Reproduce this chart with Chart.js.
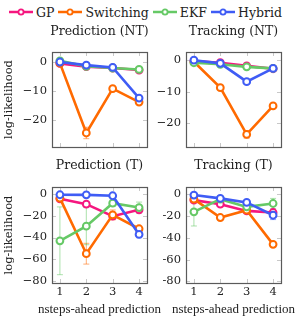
<!DOCTYPE html>
<html><head><meta charset="utf-8">
<script src="https://cdn.jsdelivr.net/npm/chart.js@4/dist/chart.umd.min.js"></script>
<style>
html,body{margin:0;padding:0;background:#fff;}
#wrap{position:relative;width:299px;height:320px;overflow:hidden;font-family:"DejaVu Serif",serif;}
canvas{position:absolute;}
#legend{position:absolute;left:-4px;top:3px;width:299px;height:18px;display:flex;justify-content:center;align-items:center;font-size:12.5px;color:#222;white-space:nowrap;}
#legend .it{display:flex;align-items:center;margin:0 2px;}
#legend svg{margin-right:3px;}
</style></head><body>
<div id="wrap">
<div id="legend"></div>
<canvas id="c1"></canvas><canvas id="c2"></canvas><canvas id="c3"></canvas><canvas id="c4"></canvas>
</div>
<script>
// ---- data ----
const steps = [1, 2, 3, 4];
const seriesNames = ["GP", "Switching", "EKF", "Hybrid"];
const seriesColors = ["#f5177f", "#ff6a00", "#66c966", "#3f5cf5"];
const panelTitles = ["Prediction (NT)", "Tracking (NT)", "Prediction (T)", "Tracking (T)"];
const xAxisLabel = "nsteps-ahead prediction";
const yAxisLabel = "log-likelihood";
const yTicksNT = [0, -10, -20];
const yTicksT = [0, -20, -40, -60, -80];

const gpPredNT  = [-0.4, -1.5, -2.0, -2.7];
const swPredNT  = [-0.3, -24.7, -9.2, -13.9];
const ekfPredNT = [0.5, -1.4, -2.0, -2.5];
const hyPredNT  = [0.1, -1.0, -1.8, -12.5];
const swPredNTErr = [0, 2, 0.5, 0.5];

const gpTrackNT  = [-0.3, -0.8, -1.8, -2.7];
const swTrackNT  = [-0.5, -8.7, -23.5, -14.5];
const ekfTrackNT = [-0.8, -1.3, -2.1, -2.6];
const hyTrackNT  = [0.0, -1.0, -6.8, -2.6];
const swTrackNTErr = [0, 0.5, 1.2, 0.5];

const gpPredT  = [-4.6, -9.5, -20.5, -14.7];
const swPredT  = [-4.0, -54.8, -19.3, -32.0];
const ekfPredT = [-43.0, -29.6, -8.6, -12.6];
const hyPredT  = [-0.9, -1.0, -1.8, -37.2];
const gpPredTErr  = [0, 0, 3, 1];
const swPredTErr  = [0, 9.5, 4.5, 2];
const ekfPredTErr = [31, 17, 3, 5];
const hyPredTErr  = [0, 0, 0, 3];

const gpTrackT  = [-5.3, -9.0, -15.2, -16.7];
const swTrackT  = [-4.4, -21.3, -14.5, -46.0];
const ekfTrackT = [-16.1, -4.4, -11.5, -8.4];
const hyTrackT  = [-0.6, -3.7, -7.4, -19.2];
const gpTrackTErr  = [0, 0, 1, 1];
const swTrackTErr  = [0, 1, 1, 2];
const ekfTrackTErr = [13, 1, 2, 4.7];
const hyTrackTErr  = [0, 0, 1, 4];

// ---- legend ----
const lg = document.getElementById('legend');
seriesNames.forEach((n, i) => {
  const d = document.createElement('span'); d.className = 'it';
  d.innerHTML = '<svg width="24" height="10"><line x1="0" y1="5" x2="24" y2="5" stroke="' + seriesColors[i] +
    '" stroke-width="2.5"/><circle cx="12" cy="5" r="2.6" fill="#fff" stroke="' + seriesColors[i] + '" stroke-width="1.8"/></svg>';
  const t = document.createElement('span'); t.textContent = n; d.appendChild(t);
  lg.appendChild(d);
});

const serif = '"DejaVu Serif", serif';
const serif2 = '"Liberation Serif", serif';

const frameAndErr = {
  id: 'frameAndErr',
  beforeDatasetsDraw(chart) {
    const ctx = chart.ctx, xs = chart.scales.x, ys = chart.scales.y, a = chart.chartArea;
    ctx.save();
    ctx.strokeStyle = '#c8c8c8'; ctx.lineWidth = 1;
    ys.ticks.forEach(t => {
      const y = Math.round(ys.getPixelForValue(t.value)) + 0.5;
      ctx.beginPath(); ctx.moveTo(a.left, y); ctx.lineTo(a.left + 4, y);
      ctx.moveTo(a.right, y); ctx.lineTo(a.right - 4, y); ctx.stroke();
    });
    xs.ticks.forEach(t => {
      const x = Math.round(xs.getPixelForValue(t.value)) + 0.5;
      ctx.beginPath(); ctx.moveTo(x, a.bottom); ctx.lineTo(x, a.bottom - 4);
      ctx.moveTo(x, a.top); ctx.lineTo(x, a.top + 4); ctx.stroke();
    });
    const errs = chart.options.plugins.frameAndErr.errors || [];
    chart.data.datasets.forEach((ds, di) => {
      const e = errs[di]; if (!e) return;
      ctx.strokeStyle = ds.borderColor; ctx.globalAlpha = 0.55; ctx.lineWidth = 1;
      ds.data.forEach((p, k) => {
        if (!e[k]) return;
        const x = xs.getPixelForValue(p.x);
        const y1 = ys.getPixelForValue(p.y + e[k]), y2 = ys.getPixelForValue(p.y - e[k]);
        ctx.beginPath();
        ctx.moveTo(x, y1); ctx.lineTo(x, y2);
        ctx.moveTo(x - 3, y1); ctx.lineTo(x + 3, y1);
        ctx.moveTo(x - 3, y2); ctx.lineTo(x + 3, y2);
        ctx.stroke();
      });
    });
    ctx.restore();
  },
  afterDraw(chart) {
    const ctx = chart.ctx, a = chart.chartArea, o = chart.options.plugins.frameAndErr;
    ctx.save(); ctx.strokeStyle = '#5a5a5a'; ctx.lineWidth = 1.2;
    ctx.strokeRect(Math.round(a.left) + 0.5, Math.round(a.top) + 0.5, Math.round(a.right - a.left), Math.round(a.bottom - a.top));
    ctx.fillStyle = '#222'; ctx.textAlign = 'center'; ctx.textBaseline = 'middle';
    const cx = (a.left + a.right) / 2;
    ctx.font = '12.5px ' + serif;
    ctx.fillText(o.title, cx, o.titleY);
    if (o.xlabel) { ctx.font = '13px ' + serif2; ctx.fillText(o.xlabel, cx, o.xlabelY); }
    ctx.restore();
  }
};

function makePanel(id, pos, title, series, errors, yTicks, yMin, yMax, leftCol, bottomRow, hyphen) {
  const cv = document.getElementById(id);
  cv.style.left = pos.left + 'px'; cv.style.top = pos.top + 'px';
  cv.width = pos.w; cv.height = pos.h;
  cv.style.width = pos.w + 'px'; cv.style.height = pos.h + 'px';
  const datasets = series.map((vals, i) => ({
    label: seriesNames[i],
    data: steps.map((s, k) => ({ x: s, y: vals[k] })),
    borderColor: seriesColors[i],
    backgroundColor: '#ffffff',
    borderWidth: 2.6,
    pointRadius: 3.4,
    pointBorderWidth: 2,
    pointBackgroundColor: '#ffffff',
    pointBorderColor: seriesColors[i],
    tension: 0,
    order: 4 - i
  }));
  new Chart(cv, {
    type: 'line',
    data: { datasets },
    plugins: [frameAndErr],
    options: {
      responsive: false, animation: false, devicePixelRatio: 1,
      layout: { padding: { left: 0, right: pos.padR, top: pos.padT, bottom: bottomRow ? 0 : pos.padB } },
      plugins: {
        legend: { display: false }, tooltip: { enabled: false }, title: { display: false },
        frameAndErr: { errors, title, titleY: pos.titleY, xlabel: bottomRow ? xAxisLabel : null, xlabelY: pos.xlabelY }
      },
      scales: {
        x: {
          type: 'linear', min: 0.7, max: 4.3,
          grid: { display: false, drawTicks: false },
          border: { display: false },
          afterBuildTicks: s => { s.ticks = steps.map(v => ({ value: v })); },
          ticks: { display: bottomRow, color: '#222', padding: 2, font: { family: serif, size: 11.5 },
                   callback: v => String(v) },
          afterFit: s => { s.height = bottomRow ? pos.xH : 0; }
        },
        y: {
          min: yMin, max: yMax,
          grid: { display: false, drawTicks: false },
          border: { display: false },
          afterBuildTicks: s => { s.ticks = yTicks.map(v => ({ value: v })); },
          ticks: { color: '#222', padding: 5, font: { family: serif, size: 11.5 },
                   callback: v => v < 0 ? (hyphen ? '-' : '\u2212') + Math.abs(v) : String(v) },
          title: { display: leftCol, text: yAxisLabel, color: '#222',
                   font: { family: serif, size: 11.5 }, padding: { top: 2, bottom: 0 } },
          afterFit: s => { s.width = pos.yW; }
        }
      }
    }
  });
}

makePanel('c1', { left: 0, top: 20, w: 299, h: 140, padR: 152, padT: 32, padB: 13, yW: 52, xH: 0, titleY: 11.5 },
  panelTitles[0], [gpPredNT, swPredNT, ekfPredNT, hyPredNT], [null, swPredNTErr, null, null], yTicksNT, -29.6, 3.6, true, false, false);
makePanel('c2', { left: 150, top: 20, w: 149, h: 140, padR: 18, padT: 32, padB: 13, yW: 36, xH: 0, titleY: 11.5 },
  panelTitles[1], [gpTrackNT, swTrackNT, ekfTrackNT, hyTrackNT], [null, swTrackNTErr, null, null], yTicksNT, -27.5, 2.6, false, false, false);
makePanel('c3', { left: 0, top: 150, w: 299, h: 170, padR: 152, padT: 37, padB: 0, yW: 52, xH: 37, titleY: 16, xlabelY: 160 },
  panelTitles[2], [gpPredT, swPredT, ekfPredT, hyPredT], [gpPredTErr, swPredTErr, ekfPredTErr, hyPredTErr], yTicksT, -81.6, 6.2, true, true, false);
makePanel('c4', { left: 150, top: 150, w: 149, h: 170, padR: 18, padT: 37, padB: 0, yW: 36, xH: 37, titleY: 16, xlabelY: 160 },
  panelTitles[3], [gpTrackT, swTrackT, ekfTrackT, hyTrackT], [gpTrackTErr, swTrackTErr, ekfTrackTErr, hyTrackTErr], yTicksT, -81.6, 6.8, false, true, true);
</script>
</body></html>
